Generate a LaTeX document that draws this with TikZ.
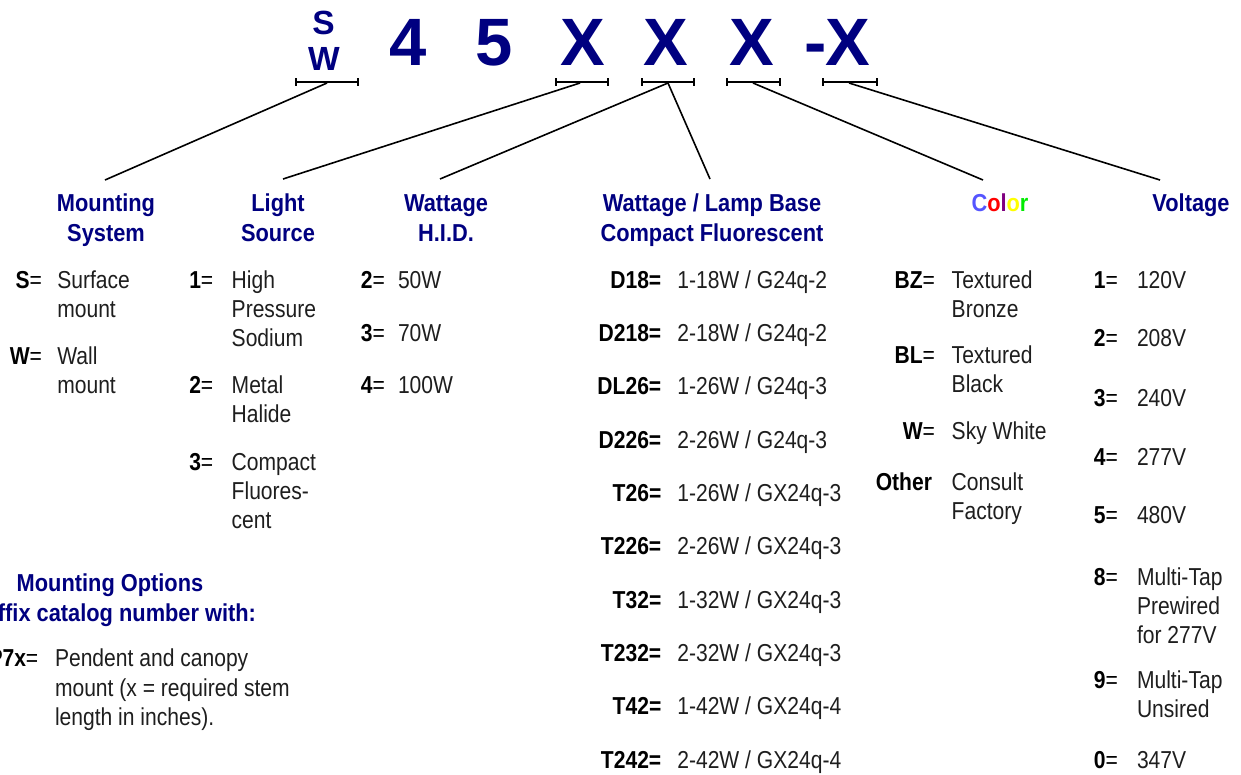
\documentclass[tikz,border=0pt]{standalone}
\usepackage{fontspec}
\setmainfont[FakeStretch=0.86]{Liberation Sans}
\newfontfamily\topfont{Liberation Sans}
\newfontfamily\headfont[FakeStretch=0.89]{Liberation Sans}
\definecolor{navy}{RGB}{0,0,128}
\definecolor{bodytxt}{RGB}{30,30,30}
\definecolor{colC}{RGB}{85,85,255}
\definecolor{colO}{RGB}{255,0,0}
\definecolor{colL}{RGB}{128,0,128}
\definecolor{colY}{RGB}{255,255,0}
\definecolor{colR}{RGB}{0,235,0}
\newcommand\ml[1]{\begin{tabular}[t]{@{}l@{}}#1\end{tabular}}
\newcommand\mlc[1]{\begin{tabular}[t]{@{}c@{}}#1\end{tabular}}
\newcommand\eq{{\mdseries=}}
\begin{document}
\begin{tikzpicture}[x=1pt,y=-1pt,
  every node/.style={inner sep=0pt,outer sep=0pt},
  body/.style={font=\fontsize{24.5}{29.3}\selectfont, text=bodytxt, anchor=base west},
  codetxt/.style={font=\fontsize{24.5}{29.3}\selectfont\bfseries, text=black, anchor=base east},
  head/.style={font=\headfont\fontsize{24.5}{29.8}\selectfont\bfseries, text=navy, anchor=base},
  big/.style={font=\topfont\fontsize{67}{67}\selectfont\bfseries, text=navy, anchor=base},
  small/.style={font=\topfont\fontsize{33.5}{33.5}\selectfont\bfseries, text=navy, anchor=base},
  brk/.style={line width=1.7pt},
  conn/.style={line width=1.6pt}]
\clip (0,0) rectangle (1241,774);

% ---- top code ----
\node[small] (topS) at (323.5,34) {S};
\node[small] (topW) at (324,70) {W};
\node[big] (d4) at (408.5,65) {4};
\node[big] (d5) at (494,65) {5};
\node[big] (x1) at (582.5,65) {X};
\node[big] (x2) at (666,65) {X};
\node[big] (x3) at (752,65) {X};
\node[big] (dash) at (816,65) {-};
\node[big] (x4) at (848,65) {X};

\newcommand\bracket[2]{\draw[brk] (#1,78)--(#1,86) (#1,82)--(#2,82) (#2,78)--(#2,86);}
\bracket{296}{358}
\bracket{556}{608}
\bracket{642}{694}
\bracket{727}{780}
\bracket{823}{877}

\coordinate (bSW) at (327,83);
\coordinate (bX1) at (580,83);
\coordinate (bX2) at (668,83);
\coordinate (bX3) at (753,83);
\coordinate (bX4) at (849,83);
\coordinate (eMS) at (105,180);
\coordinate (eLS) at (283,179);
\coordinate (eHID) at (440,179);
\coordinate (eCF) at (710,179);
\coordinate (eCol) at (983,180);
\coordinate (eVolt) at (1160,180);
\draw[conn] (bSW) -- (eMS);
\draw[conn] (bX1) -- (eLS);
\draw[conn] (bX2) -- (eHID);
\draw[conn] (bX2) -- (eCF);
\draw[conn] (bX3) -- (eCol);
\draw[conn] (bX4) -- (eVolt);

% ---- headings ----
\node[head] (hMS) at (106,211.7) {\mlc{Mounting\\System}};
\node[head] (hLS) at (278,211.7) {\mlc{Light\\Source}};
\node[head] (hHID) at (446,211.7) {\mlc{Wattage\\H.I.D.}};
\node[head] (hCF) at (712,211.7) {\mlc{Wattage / Lamp Base\\Compact Fluorescent}};
\node[head] (hCol) at (1000,211.7) {{\color{colC}C}{\color{colO}o}{\color{colL}l}{\color{colY}o}{\color{colR}r}};
\node[head] (hVolt) at (1191,211.7) {Voltage};

% ---- mounting system ----
\node[codetxt] (cS) at (42,288.3) {S\eq};
\node[body] (tS) at (57.3,288.3) {\ml{Surface\\mount}};
\node[codetxt] (cW) at (42,364) {W\eq};
\node[body] (tW) at (57.3,364) {\ml{Wall\\mount}};

% ---- light source ----
\node[codetxt] (cL1) at (213.3,288.3) {1\eq};
\node[body] (tL1) at (231.7,288.3) {\ml{High\\Pressure\\Sodium}};
\node[codetxt] (cL2) at (213.3,393.3) {2\eq};
\node[body] (tL2) at (231.7,393.3) {\ml{Metal\\Halide}};
\node[codetxt] (cL3) at (213.3,470) {3\eq};
\node[body] (tL3) at (231.7,470) {\ml{Compact\\Fluores-\\cent}};

% ---- wattage HID ----
\node[codetxt] (cH2) at (385,288.3) {2\eq};
\node[body] (tH2) at (398,288.3) {50W};
\node[codetxt] (cH3) at (385,341.7) {3\eq};
\node[body] (tH3) at (398,341.7) {70W};
\node[codetxt] (cH4) at (385,393.3) {4\eq};
\node[body] (tH4) at (398,393.3) {100W};

% ---- compact fluorescent ----
\foreach \c/\t [count=\i from 0] in {D18/{1-18W / G24q-2}, D218/{2-18W / G24q-2}, DL26/{1-26W / G24q-3}, D226/{2-26W / G24q-3}, T26/{1-26W / GX24q-3}, T226/{2-26W / GX24q-3}, T32/{1-32W / GX24q-3}, T232/{2-32W / GX24q-3}, T42/{1-42W / GX24q-4}, T242/{2-42W / GX24q-4}}{
  \node[codetxt] (cCF\i) at (661.3,288.3+53.33*\i) {\c=};
  \node[body] (tCF\i) at (677.3,288.3+53.33*\i) {\t};
}

% ---- color ----
\node[codetxt] (cBZ) at (935,288.3) {BZ\eq};
\node[body] (tBZ) at (951.7,288.3) {\ml{Textured\\Bronze}};
\node[codetxt] (cBL) at (935,363.3) {BL\eq};
\node[body] (tBL) at (951.7,363.3) {\ml{Textured\\Black}};
\node[codetxt] (cWh) at (935,439.3) {W\eq};
\node[body] (tWh) at (951.7,439.3) {Sky White};
\node[codetxt] (cOt) at (932,490) {Other};
\node[body] (tOt) at (951.7,490) {\ml{Consult\\Factory}};

% ---- voltage ----
\node[codetxt] (cV1) at (1118,288.3) {1\eq};
\node[body] (tV1) at (1137,288.3) {120V};
\node[codetxt] (cV2) at (1118,346.7) {2\eq};
\node[body] (tV2) at (1137,346.7) {208V};
\node[codetxt] (cV3) at (1118,406.7) {3\eq};
\node[body] (tV3) at (1137,406.7) {240V};
\node[codetxt] (cV4) at (1118,465) {4\eq};
\node[body] (tV4) at (1137,465) {277V};
\node[codetxt] (cV5) at (1118,523.3) {5\eq};
\node[body] (tV5) at (1137,523.3) {480V};
\node[codetxt] (cV8) at (1118,585) {8\eq};
\node[body] (tV8) at (1137,585) {\ml{Multi-Tap\\Prewired\\for 277V}};
\node[codetxt] (cV9) at (1118,688.3) {9\eq};
\node[body] (tV9) at (1137,688.3) {\ml{Multi-Tap\\Unsired}};
\node[codetxt] (cV0) at (1118,768.3) {0\eq};
\node[body] (tV0) at (1137,768.3) {347V};

% ---- mounting options ----
\node[head] (hMO1) at (110,591.7) {Mounting Options};
\node[head, anchor=base east] (hMO2) at (256,621.7) {Suffix catalog number with:};
\node[codetxt] (cP7) at (38.3,666.7) {P7x\eq};
\node[body] (tP7) at (55,666.7) {\ml{Pendent and canopy\\mount (x = required stem\\length in inches).}};
\end{tikzpicture}
\end{document}
